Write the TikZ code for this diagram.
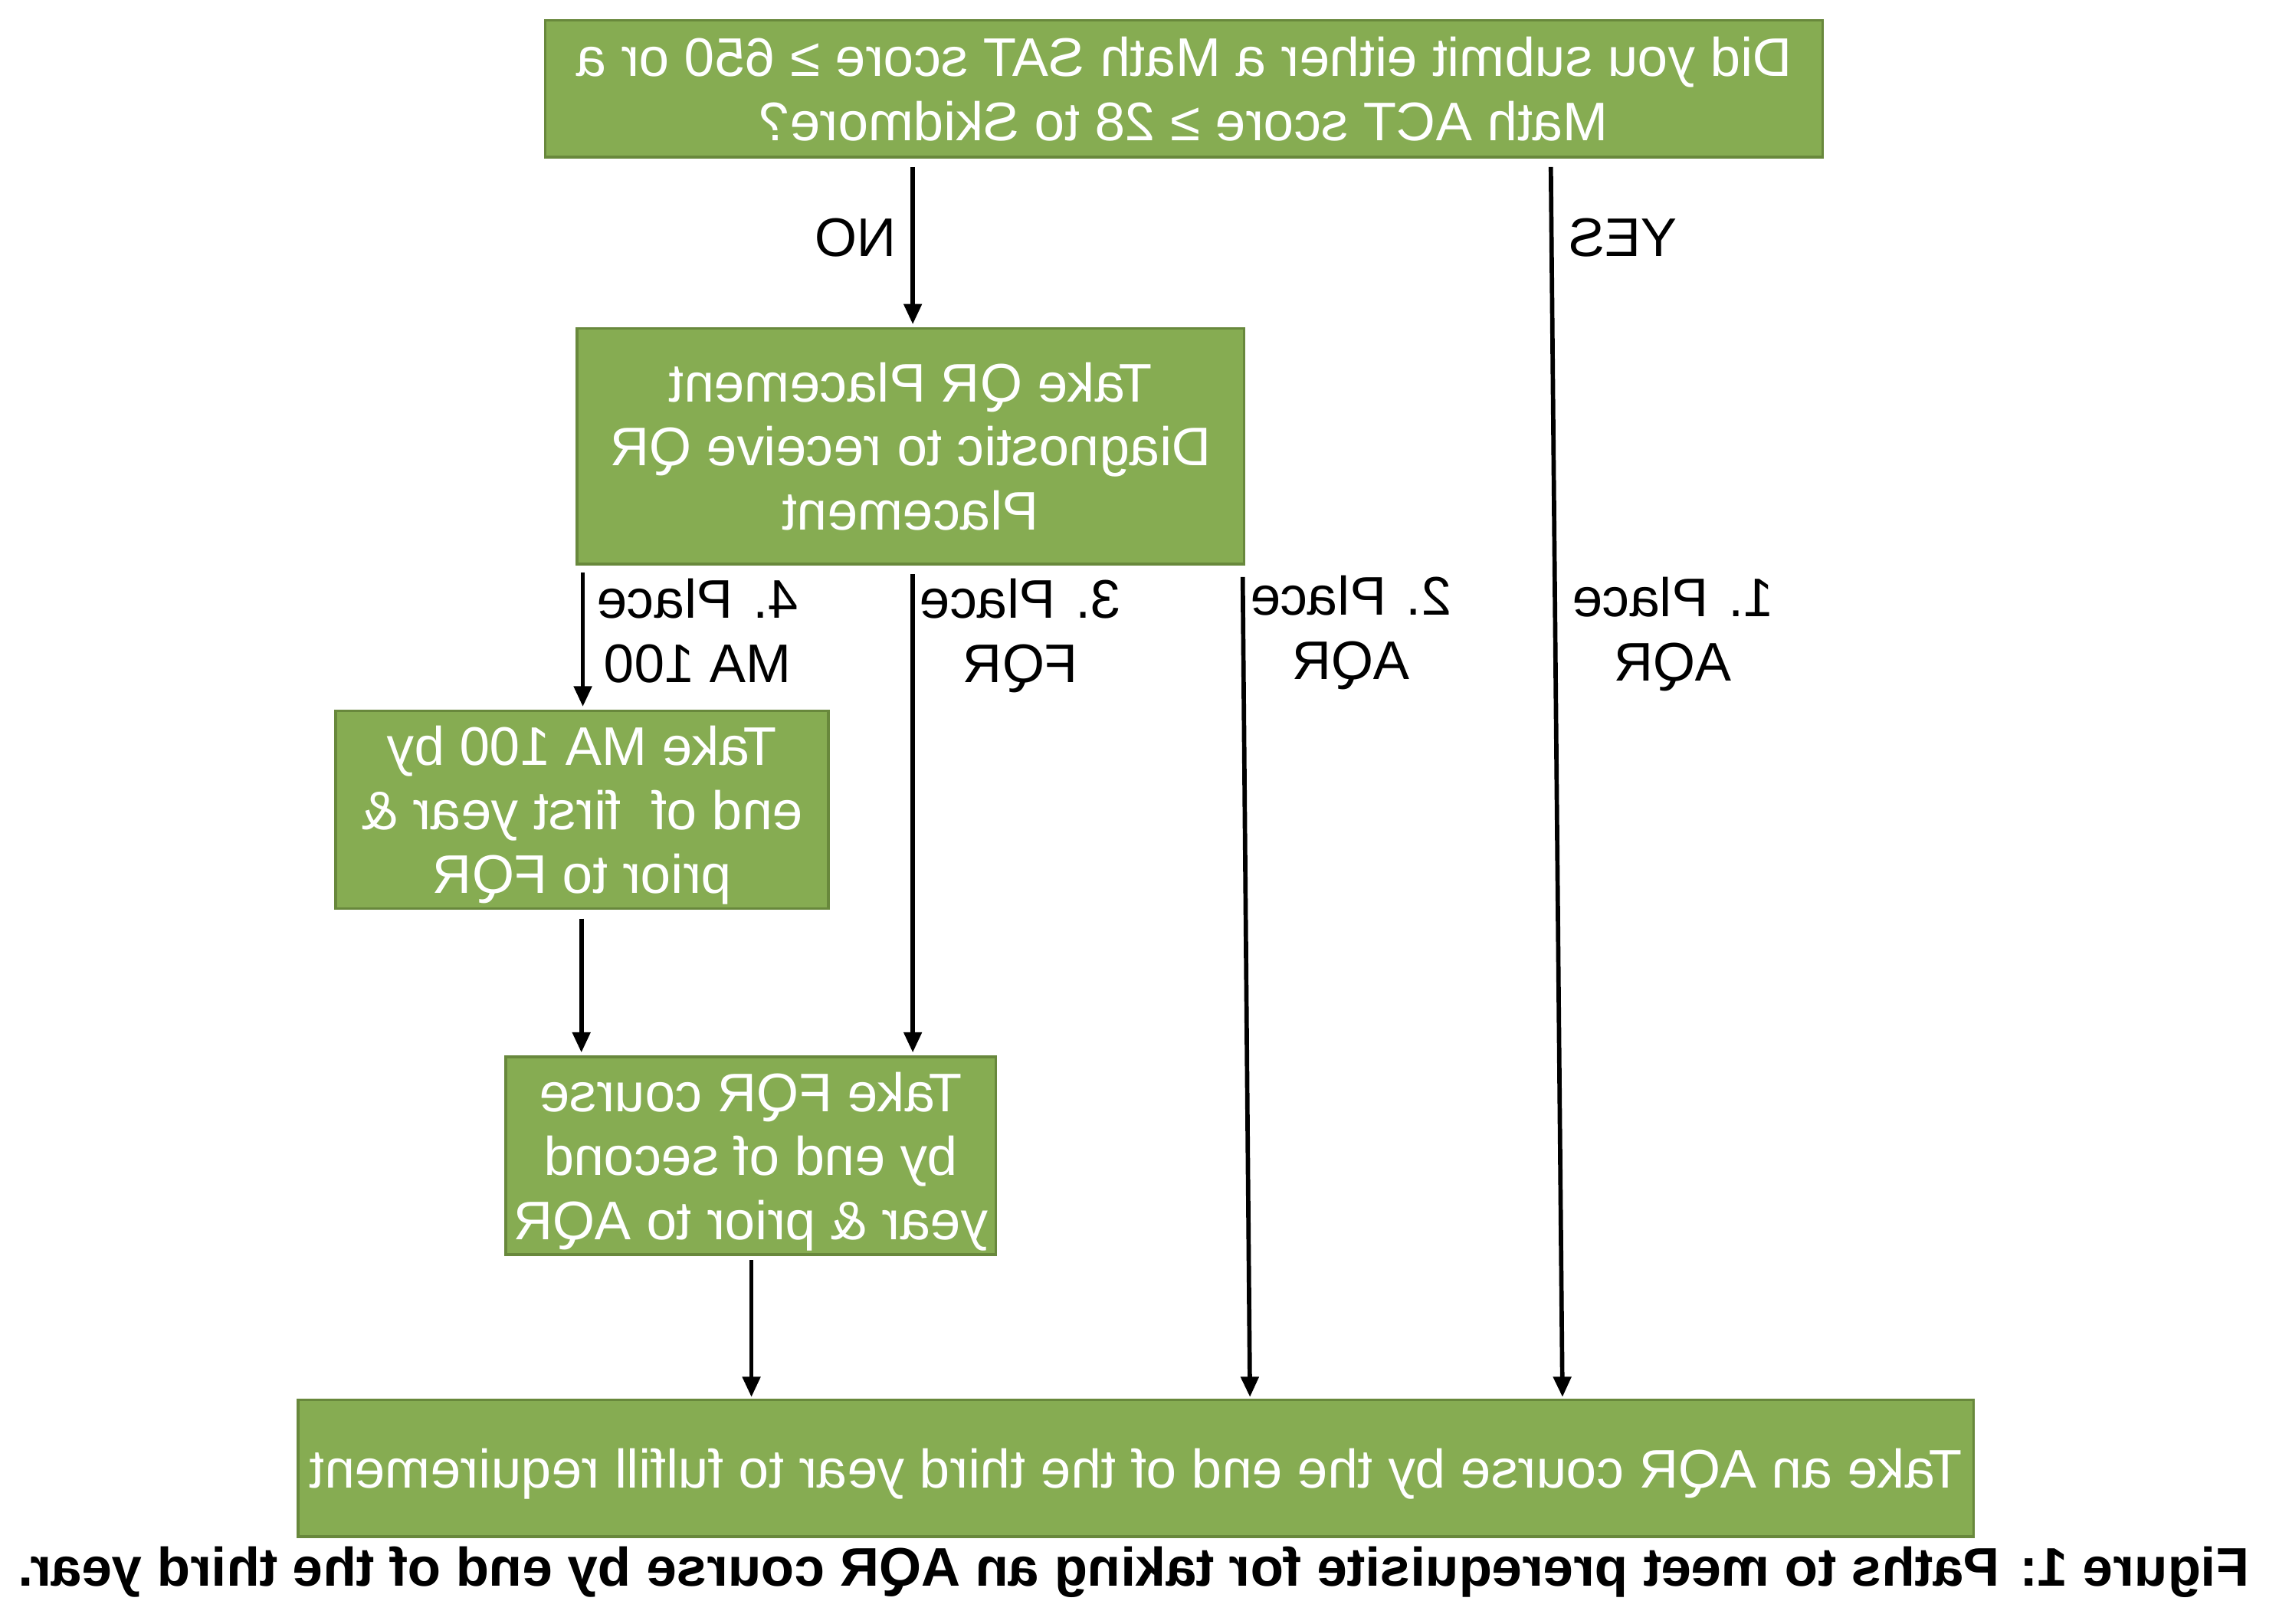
\documentclass[tikz,border=0pt]{standalone}
\usepackage{fontspec}
\setmainfont{Liberation Sans}
\usetikzlibrary{arrows.meta,calc}
\definecolor{boxfill}{RGB}{134,172,82}
\definecolor{boxline}{RGB}{104,136,60}
\begin{document}
\begin{tikzpicture}[x=1pt,y=-1pt,xscale=-1,
  every node/.append style={transform shape},
  box/.style={rectangle, draw=boxline, line width=1.8pt, fill=boxfill, text=white,
    align=center, inner sep=0pt, text depth=0pt, font=\fontsize{37.4}{44}\selectfont},
  lbl/.style={align=center, inner sep=0pt, anchor=north, font=\fontsize{37.4}{44}\selectfont},
  arr/.style={line width=3pt, -{Triangle[length=14pt,width=12pt]}}]
\useasboundingbox (0,0) rectangle (-1568,1117);

% boxes
\node[box, minimum width=879pt, minimum height=94pt] (q) at (-814.5,61)
  {Did you submit either a Math SAT score ≥ 650 or a\\Math ACT score ≥ 28 to Skidmore?};
\node[box, minimum width=459pt, minimum height=162pt] (pl) at (-626.5,307)
  {Take QR Placement\\Diagnostic to receive QR\\Placement};
\node[box, minimum width=339pt, minimum height=136pt] (ma) at (-400.5,557)
  {Take MA 100 by\\end of\ \ first year \&\\prior to FQR};
\node[box, minimum width=337pt, minimum height=136pt] (fqr) at (-516.5,795)
  {Take FQR course\\by end of second\\year \& prior to AQR};
\node[box, minimum width=1153pt, minimum height=94pt] (aqr) at (-781.5,1010)
  {Take an AQR course by the end of the third year to fulfill requirement};

% helper x positions
\coordinate (xNO) at (-628,0);
\coordinate (xYt) at (-1067,0);
\coordinate (xYb) at (-1075,0);
\coordinate (x2t) at (-855,0);
\coordinate (x2b) at (-860,0);
\coordinate (x3) at (-628,0);
\coordinate (x4) at (-401,0);
\coordinate (x5) at (-400,0);
\coordinate (x6) at (-517,0);

% connectors
\draw[arr] ($(q.south -| xNO)+(0,6)$) -- ($(pl.north -| xNO)+(0,-2)$);
\draw[arr] ($(q.south -| xYt)+(0,6)$) -- ($(aqr.north -| xYb)+(0,-1)$);
\draw[arr] ($(pl.south -| x2t)+(0,8)$) -- ($(aqr.north -| x2b)+(0,-1)$);
\draw[arr] ($(pl.south -| x3)+(0,6)$) -- ($(fqr.north -| x3)+(0,-2)$);
\draw[arr] ($(pl.south -| x4)+(0,5)$) -- ($(ma.north -| x4)+(0,-2)$);
\draw[arr] ($(ma.south -| x5)+(0,6)$) -- ($(fqr.north -| x5)+(0,-2)$);
\draw[arr] ($(fqr.south -| x6)+(0,3)$) -- ($(aqr.north -| x6)+(0,-1)$);

% labels
\node[lbl] (tNO) at (-588.5,150) {NO};
\node[lbl] (tYES) at (-1116.5,150) {YES};
\node[lbl] (t4) at (-480,398) {4. Place\\MA 100};
\node[lbl] (t3) at (-702,398) {3. Place\\FQR};
\node[lbl] (t2) at (-929.5,396) {2. Place\\AQR};
\node[lbl] (t1) at (-1151,397) {1. Place\\AQR};

% caption
\node[anchor=base, inner sep=0pt, font=\bfseries\fontsize{37.4}{44}\selectfont] (cap) at (-780,1091)
  {Figure 1: Paths to meet prerequisite for taking an AQR course by end of the third year.};
\end{tikzpicture}
\end{document}
